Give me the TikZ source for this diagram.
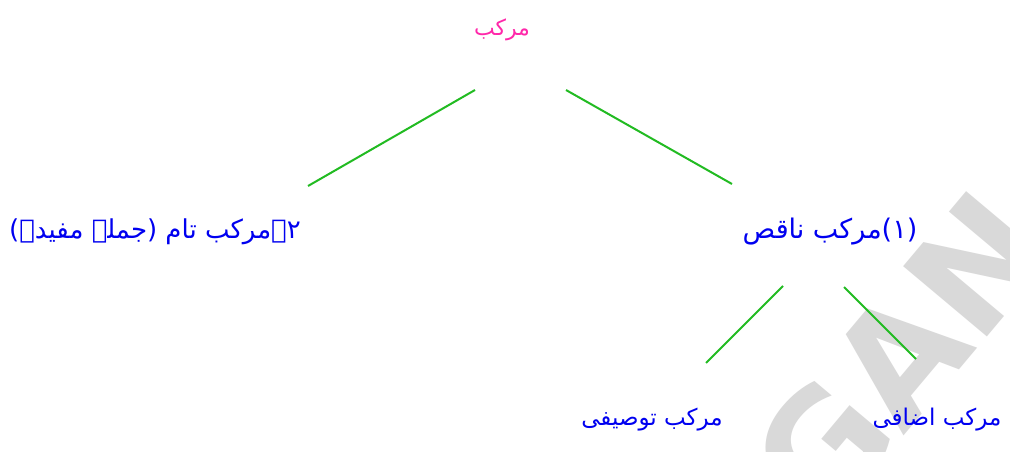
\documentclass[tikz,border=0pt]{standalone}
\usepackage{fontspec}
\newfontfamily\urdu[Script=Arabic]{DejaVu Sans}
\newfontfamily\wmfont{DejaVu Sans}
\TeXXeTstate=1
\definecolor{pinkc}{RGB}{255,40,170}
\definecolor{bluec}{RGB}{0,0,240}
\definecolor{greenc}{RGB}{34,187,34}
\tikzset{
  lbl/.style={font=\urdu\fontsize{26}{31}\selectfont, text=bluec, inner sep=0pt, anchor=center},
  toplbl/.style={lbl, text=pinkc, font=\urdu\fontsize{22}{26}\selectfont},
  smalllbl/.style={lbl, font=\urdu\fontsize{23}{28}\selectfont},
  conn/.style={draw=greenc, line width=2pt},
  wmark/.style={font=\wmfont\bfseries\fontsize{150}{150}\selectfont, text=black!15, rotate=50, inner sep=0pt}
}
\begin{document}
\begin{tikzpicture}[x=1pt,y=1pt]
\useasboundingbox (0,0) rectangle (1010,451);
\clip (0,0) rectangle (1010,451);
\fill[white] (0,0) rectangle (1010,451);
\node[wmark] (wm) at (900,95) {GAN};
\node[toplbl] (top) at (502,421) {\beginR مرکب\endR};
\node[lbl] (left) at (155,219) {\beginR ۲۔مرکب تام (جملہ مفیدہ)\endR};
\node[lbl, font=\urdu\fontsize{27}{32}\selectfont] (right) at (830,219) {\beginR (۱)مرکب ناقص\endR};
\node[smalllbl] (bl) at (652,31) {\beginR مرکب توصیفی\endR};
\node[smalllbl] (br) at (937,31) {\beginR مرکب اضافی\endR};
\coordinate (t1) at (475,361);
\coordinate (l1) at (308,265);
\coordinate (t2) at (566,361);
\coordinate (r1) at (732,267);
\coordinate (r2) at (783,165);
\coordinate (b1) at (706,88);
\coordinate (r3) at (844,164);
\coordinate (b2) at (916,92);
\draw[conn] (t1) -- (l1);
\draw[conn] (t2) -- (r1);
\draw[conn] (r2) -- (b1);
\draw[conn] (r3) -- (b2);
\end{tikzpicture}
\end{document}
